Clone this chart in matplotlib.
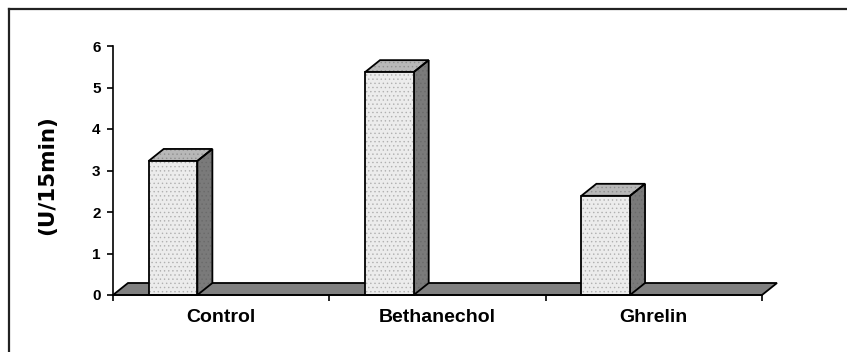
import matplotlib
matplotlib.use("Agg")
import matplotlib.pyplot as plt
from matplotlib.patches import Polygon
from matplotlib.lines import Line2D

categories = ["Control", "Bethanechol", "Ghrelin"]
values = [3.23, 5.37, 2.39]
y_ticks = [0, 1, 2, 3, 4, 5, 6]
y_label = "(U/15min)"

W, H = 847, 352
fig = plt.figure(figsize=(W / 100, H / 100), dpi=100)
fig.patch.set_facecolor("white")

# plot area in pixel terms
left_px, right_px, top_px, base_px = 113, 762, 46, 295
ax = fig.add_axes([left_px / W, (H - base_px) / H,
                   (right_px - left_px) / W, (base_px - top_px) / H])
ax.set_xlim(0, len(categories))
ax.set_ylim(0, 6)
ax.patch.set_alpha(0)

# 3-D depth offset, converted from pixels to data units
depth_px = (15, 12)
ux = (right_px - left_px) / len(categories)
uy = (base_px - top_px) / 6.0
ddx, ddy = depth_px[0] / ux, depth_px[1] / uy

# floor slab
n = len(categories)
floor = Polygon([(0, 0), (n, 0), (n + ddx, ddy), (ddx, ddy)], closed=True,
                facecolor="#808080", edgecolor="black", linewidth=1.3,
                clip_on=False, zorder=2)
ax.add_patch(floor)

FRONT, TOP, SIDE = "#ececec", "#b8b8b8", "#7a7a7a"
bar_left, bar_w = 0.165, 0.225


def face(pts, fc, hc, z):
    ax.add_patch(Polygon(pts, closed=True, facecolor=fc, edgecolor=hc,
                         hatch="....", linewidth=0, clip_on=False, zorder=z))
    ax.add_patch(Polygon(pts, closed=True, facecolor="none",
                         edgecolor="black", linewidth=1.3, clip_on=False,
                         zorder=z + 0.1, joinstyle="miter"))


plt.rcParams["hatch.linewidth"] = 0.5
for i, v in enumerate(values):
    x0 = i + bar_left
    x1 = x0 + bar_w
    face([(x0, 0), (x1, 0), (x1, v), (x0, v)], FRONT, "#b0b0b0", 5)
    face([(x0, v), (x1, v), (x1 + ddx, v + ddy), (x0 + ddx, v + ddy)],
         TOP, "#909090", 4)
    face([(x1, 0), (x1 + ddx, ddy), (x1 + ddx, v + ddy), (x1, v)],
         SIDE, "#6a6a6a", 4)

# axes styling
for s in ("top", "right"):
    ax.spines[s].set_visible(False)
for s in ("left", "bottom"):
    ax.spines[s].set_linewidth(1.2)
    ax.spines[s].set_color("black")
    ax.spines[s].set_zorder(6)
ax.spines["left"].set_bounds(0, 6)

ax.set_yticks(y_ticks)
ax.set_yticklabels([str(t) for t in y_ticks])
ax.tick_params(axis="y", direction="out", length=4.5, width=1.2, pad=4.5,
               labelsize=11)
for lbl in ax.get_yticklabels():
    lbl.set_fontfamily("Liberation Sans")
    lbl.set_fontweight("bold")

ax.set_xticks(range(n + 1))
ax.set_xticklabels([""] * (n + 1))
ax.tick_params(axis="x", which="major", direction="out", length=4.5, width=1.2)
ax.set_xticks([i + 0.5 for i in range(n)], minor=True)
ax.set_xticklabels(categories, minor=True)
ax.tick_params(axis="x", which="minor", length=0, pad=10, labelsize=14)
for lbl in ax.get_xticklabels(minor=True):
    lbl.set_fontfamily("Liberation Sans")
    lbl.set_fontweight("bold")

fig.text(47 / W, 1 - 175 / H, y_label, rotation=90, ha="center", va="center",
         fontsize=15.5, fontweight="bold", family="DejaVu Sans")

# outer chart frame
fx, fy = 9 / W, 1 - 9 / H
fig.add_artist(Line2D([fx, 1.0], [fy, fy], transform=fig.transFigure,
                      color="#222222", linewidth=1.6))
fig.add_artist(Line2D([fx, fx], [0.0, fy], transform=fig.transFigure,
                      color="#222222", linewidth=1.6))

fig.savefig("out.png", dpi=100)
